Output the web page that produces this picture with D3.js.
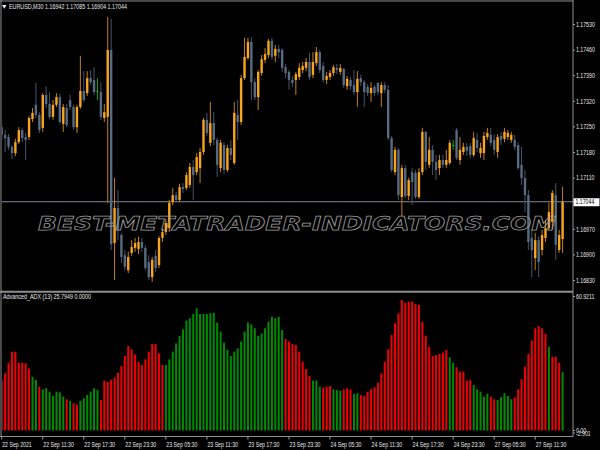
<!DOCTYPE html>
<html><head><meta charset="utf-8">
<script src="https://cdn.jsdelivr.net/npm/d3@7"></script>
<style>html,body{margin:0;padding:0;background:#000;overflow:hidden}svg{display:block}</style>
</head><body>
<script>
// ---------- data ----------
const symbolTitle = "EURUSD,M30";
const ohlcTitle = "1.16942 1.17085 1.16904 1.17044";
const indicatorTitle = "Advanced_ADX (13) 25.7949 0.0000";
const watermark = "BEST-METATRADER-INDICATORS.COM";

const opens = [1.17248,1.17227,1.17221,1.17194,1.17177,1.17207,1.17240,1.17221,1.17221,1.17270,
1.17309,1.17281,1.17246,1.17336,1.17311,1.17276,1.17309,1.17330,1.17257,1.17300,
1.17322,1.17303,1.17248,1.17303,1.17347,1.17341,1.17382,1.17377,1.17347,1.17344,
1.17273,1.17276,1.17459,1.16931,1.17027,1.16953,1.16898,1.16857,1.16904,1.16918,
1.16915,1.16934,1.16918,1.16879,1.16838,1.16896,1.16871,1.16945,1.16961,1.16972,
1.17043,1.17062,1.17049,1.17084,1.17082,1.17090,1.17139,1.17125,1.17136,1.17180,
1.17268,1.17205,1.17259,1.17213,1.17136,1.17199,1.17131,1.17191,1.17150,1.17281,
1.17262,1.17382,1.17437,1.17481,1.17371,1.17330,1.17396,1.17432,1.17445,1.17484,
1.17443,1.17462,1.17459,1.17412,1.17399,1.17377,1.17377,1.17385,1.17404,1.17410,
1.17426,1.17391,1.17423,1.17453,1.17415,1.17377,1.17385,1.17396,1.17410,1.17399,
1.17407,1.17360,1.17377,1.17363,1.17344,1.17382,1.17371,1.17358,1.17341,1.17358,
1.17369,1.17341,1.17363,1.17350,1.17218,1.17125,1.17186,1.17057,1.17136,1.17060,
1.17125,1.17123,1.17057,1.17125,1.17235,1.17145,1.17186,1.17153,1.17136,1.17158,
1.17145,1.17150,1.17199,1.17240,1.17158,1.17180,1.17194,1.17196,1.17172,1.17213,
1.17177,1.17177,1.17221,1.17227,1.17213,1.17180,1.17224,1.17216,1.17221,1.17213,
1.17213,1.17199,1.17145,1.17109,1.17062,1.16945,1.16890,1.16939,1.16912,1.16945,
1.16972,1.16989,1.17062,1.16912,1.16942];
const highs = [1.17257,1.17240,1.17229,1.17199,1.17216,1.17248,1.17246,1.17232,1.17278,1.17300,
1.17369,1.17289,1.17341,1.17360,1.17344,1.17322,1.17341,1.17339,1.17311,1.17311,
1.17336,1.17309,1.17309,1.17443,1.17401,1.17401,1.17404,1.17412,1.17382,1.17371,
1.17311,1.17549,1.17544,1.17109,1.17076,1.16959,1.16912,1.16907,1.16939,1.16945,
1.16948,1.16945,1.16926,1.16898,1.16893,1.16912,1.16950,1.16972,1.16997,1.17049,
1.17082,1.17071,1.17093,1.17095,1.17125,1.17150,1.17158,1.17177,1.17191,1.17273,
1.17287,1.17317,1.17289,1.17218,1.17213,1.17207,1.17199,1.17213,1.17317,1.17322,
1.17391,1.17492,1.17492,1.17494,1.17382,1.17404,1.17445,1.17464,1.17489,1.17492,
1.17473,1.17473,1.17464,1.17421,1.17404,1.17388,1.17399,1.17423,1.17426,1.17437,
1.17451,1.17453,1.17467,1.17459,1.17426,1.17399,1.17404,1.17418,1.17421,1.17421,
1.17410,1.17388,1.17385,1.17404,1.17401,1.17391,1.17377,1.17366,1.17371,1.17363,
1.17371,1.17371,1.17371,1.17363,1.17224,1.17194,1.17191,1.17145,1.17145,1.17109,
1.17136,1.17131,1.17136,1.17246,1.17237,1.17221,1.17199,1.17172,1.17172,1.17172,
1.17186,1.17213,1.17213,1.17246,1.17221,1.17205,1.17205,1.17205,1.17235,1.17232,
1.17205,1.17235,1.17246,1.17246,1.17227,1.17229,1.17235,1.17246,1.17240,1.17235,
1.17227,1.17207,1.17194,1.17131,1.17076,1.16967,1.16959,1.16950,1.16967,1.16994,
1.17041,1.17076,1.17095,1.16967,1.17085];
const lows = [1.17213,1.17180,1.17186,1.17161,1.17169,1.17202,1.17207,1.17158,1.17213,1.17262,
1.17273,1.17232,1.17235,1.17300,1.17270,1.17268,1.17303,1.17257,1.17235,1.17248,
1.17295,1.17240,1.17232,1.17298,1.17317,1.17333,1.17363,1.17336,1.17322,1.17268,
1.17262,1.17041,1.16912,1.16830,1.16939,1.16877,1.16857,1.16849,1.16896,1.16907,
1.16901,1.16907,1.16857,1.16830,1.16825,1.16852,1.16863,1.16934,1.16953,1.16961,
1.17035,1.17041,1.17043,1.17068,1.17076,1.17082,1.17049,1.17117,1.17095,1.17172,
1.17224,1.17196,1.17199,1.17112,1.17125,1.17120,1.17125,1.17158,1.17145,1.17213,
1.17254,1.17377,1.17432,1.17322,1.17322,1.17295,1.17388,1.17423,1.17437,1.17432,
1.17426,1.17437,1.17399,1.17382,1.17350,1.17358,1.17336,1.17377,1.17396,1.17401,
1.17377,1.17382,1.17415,1.17396,1.17369,1.17366,1.17377,1.17388,1.17393,1.17391,
1.17355,1.17350,1.17350,1.17336,1.17303,1.17360,1.17303,1.17333,1.17317,1.17333,
1.17336,1.17303,1.17341,1.17213,1.17125,1.17117,1.17049,1.17005,1.17054,1.17049,
1.17035,1.17052,1.17052,1.17117,1.17131,1.17136,1.17117,1.17103,1.17117,1.17136,
1.17136,1.17145,1.17186,1.17158,1.17145,1.17172,1.17169,1.17164,1.17166,1.17180,
1.17164,1.17158,1.17213,1.17196,1.17172,1.17164,1.17199,1.17207,1.17213,1.17205,
1.17186,1.17131,1.17090,1.17016,1.16912,1.16838,1.16857,1.16838,1.16898,1.16934,
1.16967,1.16967,1.16885,1.16904,1.16904];
const closes = [1.17227,1.17218,1.17194,1.17177,1.17207,1.17240,1.17218,1.17213,1.17273,1.17287,
1.17281,1.17240,1.17336,1.17311,1.17276,1.17309,1.17330,1.17262,1.17303,1.17254,
1.17303,1.17248,1.17303,1.17347,1.17322,1.17382,1.17371,1.17344,1.17347,1.17276,
1.17289,1.17459,1.16928,1.17027,1.16967,1.16893,1.16866,1.16893,1.16920,1.16931,
1.16934,1.16918,1.16863,1.16838,1.16885,1.16863,1.16945,1.16961,1.16986,1.17041,
1.17062,1.17049,1.17084,1.17079,1.17117,1.17139,1.17117,1.17166,1.17180,1.17268,
1.17232,1.17259,1.17213,1.17145,1.17205,1.17131,1.17191,1.17172,1.17287,1.17262,
1.17382,1.17440,1.17481,1.17371,1.17330,1.17399,1.17434,1.17448,1.17484,1.17440,
1.17462,1.17453,1.17410,1.17396,1.17377,1.17369,1.17393,1.17410,1.17415,1.17426,
1.17385,1.17426,1.17453,1.17404,1.17377,1.17388,1.17396,1.17412,1.17404,1.17410,
1.17363,1.17380,1.17360,1.17344,1.17380,1.17371,1.17344,1.17341,1.17355,1.17341,
1.17344,1.17363,1.17350,1.17218,1.17131,1.17186,1.17062,1.17136,1.17060,1.17103,
1.17098,1.17057,1.17125,1.17235,1.17153,1.17186,1.17153,1.17131,1.17158,1.17145,
1.17158,1.17205,1.17199,1.17164,1.17186,1.17194,1.17183,1.17172,1.17218,1.17191,
1.17191,1.17224,1.17232,1.17205,1.17186,1.17221,1.17213,1.17235,1.17232,1.17227,
1.17194,1.17136,1.17109,1.17062,1.16934,1.16912,1.16939,1.16879,1.16953,1.16972,
1.17016,1.17068,1.16926,1.16953,1.17044];

const adxValues = [22.1,25.3,30.0,34.9,34.9,30.0,30.0,29.7,27.5,23.8,
22.4,19.4,18.2,18.7,17.2,15.3,17.2,16.9,15.0,13.8,
13.1,12.0,11.3,13.1,14.2,15.7,17.2,18.7,17.9,13.5,
22.1,21.6,22.4,23.5,25.6,28.6,33.0,37.4,36.0,33.7,
30.5,29.0,31.5,34.9,38.3,38.3,34.2,29.0,29.0,31.5,
34.9,38.6,41.9,44.8,48.7,49.7,51.6,54.1,51.6,51.6,
51.6,51.9,52.2,47.8,43.8,38.9,35.7,33.0,34.9,36.4,
39.4,43.8,47.8,47.0,45.3,41.9,43.0,45.3,48.2,50.4,
49.7,50.4,44.5,40.5,39.4,38.3,37.9,34.9,30.5,27.2,
24.1,22.1,22.1,19.4,19.0,19.4,19.7,18.2,17.9,17.6,
18.2,18.7,18.2,16.2,16.5,15.7,15.3,17.2,18.2,19.1,
21.2,25.3,30.5,36.0,42.3,47.5,51.9,57.8,56.6,57.1,
57.1,56.0,55.6,48.2,41.9,37.1,33.0,33.4,33.9,34.5,
35.7,32.4,30.0,28.0,26.1,26.1,22.1,22.4,20.1,18.2,
17.2,15.0,16.2,15.0,13.8,13.5,14.7,16.5,15.3,13.8,
14.7,18.2,22.7,28.3,33.9,39.8,45.3,46.3,45.3,42.8,
37.1,32.7,32.7,30.0,25.7949];
// g = green (rising) buffer, r = red buffer
const adxTrend = ("rrrrrrrrrggrgggggggrgrrggggggrrrrrrrrrrrrrrrrrrrggggggggggggggggggggggggggggggggggg" +
  "rrrrrrrrgggrrrgggrrrggrrrrrrrrrrrrrrrrrrrrrrrrrrggrrrrrgggggrrgggggrrrrrrrrrrgrrrg").split("");

const priceTicks = [1.16830,1.16900,1.16970,1.17110,1.17180,1.17250,1.17320,1.17390,1.17460,1.17530];
const currentPrice = 1.17044;
const priceMin = 1.168027, priceMax = 1.175956;
const adxMax = 60.9211, adxMin = -2.901;
const adxAxisLabels = ["60.9211","0.00","-2.901"];
const adxAxisValues = [60.9211, 0, -2.901];
const timeTickIndex = [0,12,24,36,48,60,72,84,96,108,120,132,144,156];
const timeTickLabels = ["22 Sep 2021","22 Sep 11:30","22 Sep 17:30","22 Sep 23:30","23 Sep 05:30",
  "23 Sep 11:30","23 Sep 17:30","23 Sep 23:30","24 Sep 05:30","24 Sep 11:30","24 Sep 17:30",
  "24 Sep 23:30","27 Sep 05:30","27 Sep 11:30"];

// ---------- drawing ----------
const W = 600, H = 450, axisX = 573;
const FONT = "'Liberation Sans', Arial, sans-serif";
const FS = 6.5, CF = 0.8;
const svg = d3.select("body").append("svg").attr("width", W).attr("height", H).style("background", "#000");

const x = d3.scaleBand().domain(d3.range(opens.length)).range([0, 564.3]).padding(0);
const cx = i => x(i) + x.bandwidth() / 2;
const yP = d3.scaleLinear().domain([priceMin, priceMax]).range([290, 0]);
const yA = d3.scaleLinear().domain([adxMin, adxMax]).range([437, 293]);

function condense(sel, f) {
  sel.each(function () {
    const w = this.getComputedTextLength();
    d3.select(this).attr("textLength", w * f).attr("lengthAdjust", "spacingAndGlyphs");
  });
}

const defs = svg.append("defs");
defs.append("clipPath").attr("id", "mainClip").append("rect")
  .attr("x", 2).attr("y", 2).attr("width", axisX - 2).attr("height", 288);
defs.append("clipPath").attr("id", "indClip").append("rect")
  .attr("x", 2).attr("y", 293).attr("width", axisX - 2).attr("height", 143);

// current price line
svg.append("line").attr("x1", 2).attr("x2", axisX)
  .attr("y1", yP(currentPrice)).attr("y2", yP(currentPrice))
  .attr("stroke", "#7d8998").attr("stroke-width", 1);

// candles
const main = svg.append("g").attr("clip-path", "url(#mainClip)");
const idx = d3.range(opens.length);
const kind = i => closes[i] > opens[i] ? "up" : (closes[i] < opens[i] ? "down" : "doji");
const bodyCol = { up: "#f7a51c", down: "#566a82", doji: "#12b812" };
const wickCol = { up: "#c08020", down: "#46556a", doji: "#12a012" };

main.selectAll("line.wick").data(idx).join("line").attr("class", "wick")
  .attr("x1", i => cx(i)).attr("x2", i => cx(i))
  .attr("y1", i => yP(highs[i])).attr("y2", i => yP(lows[i]))
  .attr("stroke", i => wickCol[kind(i)]).attr("stroke-width", 1);

main.selectAll("rect.body").data(idx).join("rect").attr("class", "body")
  .attr("x", i => cx(i) - 1.2).attr("width", 2.4)
  .attr("y", i => yP(Math.max(opens[i], closes[i])))
  .attr("height", i => Math.max(1, Math.abs(yP(opens[i]) - yP(closes[i]))))
  .attr("fill", i => bodyCol[kind(i)]);

// watermark
svg.append("text").attr("x", 38).attr("y", 229.5)
  .attr("font-family", "'DejaVu Sans', sans-serif").attr("font-weight", "bold").attr("font-style", "italic")
  .attr("font-size", 20).attr("textLength", 518).attr("lengthAdjust", "spacingAndGlyphs")
  .attr("fill", "none").attr("stroke", "#9c9c9c").attr("stroke-width", 0.75)
  .text(watermark);

// histogram
const ind = svg.append("g").attr("clip-path", "url(#indClip)");
ind.selectAll("rect").data(idx).join("rect")
  .attr("x", i => cx(i) - 1).attr("width", 2)
  .attr("y", i => yA(Math.max(0, adxValues[i])))
  .attr("height", i => Math.abs(yA(adxValues[i]) - yA(0)))
  .attr("fill", i => adxTrend[i] === "g" ? "#008c00" : "#f00000");

// frames
const frame = svg.append("g").attr("stroke", "#8e8e8e").attr("fill", "none");
frame.append("line").attr("x1", 0).attr("x2", axisX).attr("y1", 1).attr("y2", 1);
frame.append("line").attr("x1", 1).attr("x2", 1).attr("y1", 0).attr("y2", 437);
frame.append("line").attr("x1", 0).attr("x2", axisX).attr("y1", 291.8).attr("y2", 291.8).attr("stroke-width", 2);
frame.append("line").attr("x1", axisX).attr("x2", axisX).attr("y1", 0).attr("y2", 437);
frame.append("line").attr("x1", 0).attr("x2", axisX).attr("y1", 436.5).attr("y2", 436.5);

// price axis
const pAxis = svg.append("g").attr("transform", `translate(${axisX},0)`)
  .call(d3.axisRight(yP).tickValues(priceTicks).tickFormat(d3.format(".5f"))
    .tickSize(2).tickSizeOuter(0).tickPadding(1));
pAxis.select(".domain").remove();
pAxis.selectAll("line").attr("stroke", "#9a9a9a");
pAxis.selectAll("text").attr("font-family", FONT).attr("font-size", FS).attr("fill", "#e8e8e8")
  .attr("dy", "0.35em").call(condense, CF);

// current price box
const cpy = yP(currentPrice);
svg.append("rect").attr("x", axisX + 0.5).attr("y", cpy - 3.5).attr("width", 26).attr("height", 8).attr("fill", "#fff");
svg.append("text").attr("x", axisX + 2.5).attr("y", cpy + 2.6).attr("font-family", FONT).attr("font-size", FS)
  .attr("fill", "#000").text(d3.format(".5f")(currentPrice)).call(condense, CF);

// indicator axis labels
const adxLab = svg.append("g");
adxAxisValues.forEach((v, k) => {
  const yy = Math.min(435.5, Math.max(299, yA(v) + 2.5));
  adxLab.append("line").attr("x1", axisX).attr("x2", axisX + 2).attr("y1", yy - 2.5).attr("y2", yy - 2.5).attr("stroke", "#9a9a9a");
  adxLab.append("text").attr("x", axisX + 3).attr("y", yy).attr("font-family", FONT).attr("font-size", FS)
    .attr("fill", "#e8e8e8").text(adxAxisLabels[k]).call(condense, CF);
});

// time axis
const tAxis = svg.append("g");
timeTickIndex.forEach((ti, k) => {
  const tx = cx(ti);
  tAxis.append("line").attr("x1", tx).attr("x2", tx).attr("y1", 436.5).attr("y2", 439.5).attr("stroke", "#9a9a9a");
  tAxis.append("text").attr("x", Math.max(2, tx + 0.5)).attr("y", 446.5).attr("font-family", FONT).attr("font-size", FS)
    .attr("fill", "#e8e8e8").text(timeTickLabels[k]).call(condense, CF);
});

// titles
svg.append("path").attr("d", d3.symbol(d3.symbolTriangle, 9)()).attr("transform", "translate(4.3,6.2) rotate(180)").attr("fill", "#e8e8e8");
svg.append("text").attr("x", 9).attr("y", 8.5).attr("font-family", FONT).attr("font-size", FS).attr("fill", "#e8e8e8")
  .attr("textLength", 118).attr("lengthAdjust", "spacingAndGlyphs")
  .text(symbolTitle + "  " + ohlcTitle);
svg.append("text").attr("x", 3).attr("y", 299.3).attr("font-family", FONT).attr("font-size", FS).attr("fill", "#e8e8e8")
  .attr("textLength", 88).attr("lengthAdjust", "spacingAndGlyphs")
  .text(indicatorTitle);
</script>
</body></html>
